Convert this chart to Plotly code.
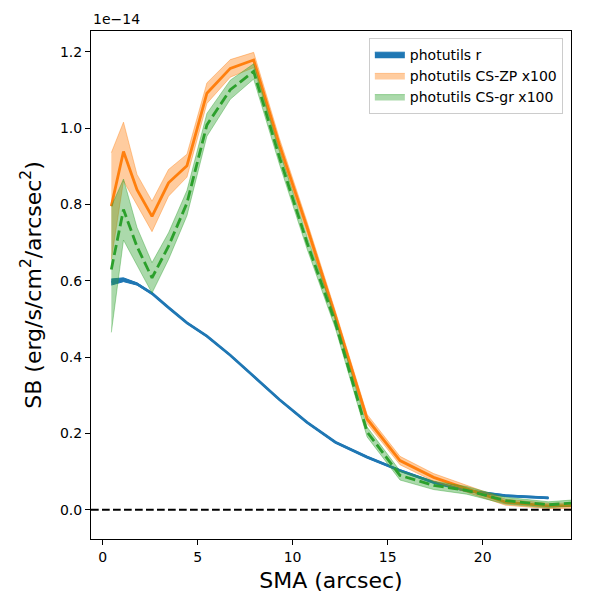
import plotly.graph_objects as go

# SMA grid (arcsec)
sma = [0.46, 1.10, 1.81, 2.60, 3.47, 4.44, 5.49, 6.72, 7.95, 9.30, 10.76,
       12.25, 13.92, 15.65, 17.42, 19.15, 21.20, 23.46, 25.90]

# photutils r (units of 1e-14), ends at 23.46
sb_r = [0.597, 0.603, 0.592, 0.567, 0.530, 0.490, 0.455, 0.405, 0.350, 0.289,
        0.229, 0.177, 0.138, 0.103, 0.072, 0.050, 0.037, 0.031]
err_r = [0.008, 0.005, 0.003, 0.002, 0.002, 0.002, 0.002, 0.002, 0.002, 0.002,
         0.002, 0.002, 0.002, 0.002, 0.002, 0.002, 0.002, 0.002]

# photutils CS-ZP x100
sb_zp = [0.796, 0.939, 0.839, 0.769, 0.857, 0.902, 1.092, 1.157, 1.179, 0.957,
         0.740, 0.508, 0.238, 0.129, 0.085, 0.055, 0.020, 0.010, 0.012]
err_zp = [0.140, 0.077, 0.040, 0.040, 0.035, 0.030, 0.027, 0.023, 0.020, 0.017,
          0.015, 0.013, 0.012, 0.011, 0.010, 0.009, 0.008, 0.007, 0.007]

# photutils CS-gr x100
sb_gr = [0.630, 0.787, 0.690, 0.608, 0.691, 0.804, 1.009, 1.101, 1.149, 0.925,
         0.700, 0.490, 0.204, 0.090, 0.064, 0.051, 0.024, 0.013, 0.022]
err_gr = [0.165, 0.080, 0.050, 0.040, 0.035, 0.033, 0.030, 0.025, 0.020, 0.018,
          0.016, 0.014, 0.013, 0.012, 0.011, 0.010, 0.009, 0.008, 0.008]

names = ["photutils r", "photutils CS-ZP x100", "photutils CS-gr x100"]
xticks = [0, 5, 10, 15, 20]
yticks = [0.0, 0.2, 0.4, 0.6, 0.8, 1.0, 1.2]

FONT = "DejaVu Sans"
fig = go.Figure()


def band(x, y, e, fillcol, linecol, name):
    up = [a + b for a, b in zip(y, e)]
    lo = [a - b for a, b in zip(y, e)]
    fig.add_trace(go.Scatter(
        x=list(x) + list(x)[::-1], y=up + lo[::-1], fill="toself",
        fillcolor=fillcol, line=dict(color=linecol, width=1),
        mode="lines", name=name, hoverinfo="skip"))


def line(x, y, col, dash="solid"):
    fig.add_trace(go.Scatter(x=x, y=y, mode="lines", showlegend=False,
                             line=dict(color=col, width=2.8, dash=dash)))


n_r = len(sb_r)
band(sma[:n_r], sb_r, err_r, "#1f77b4", "#1f77b4", names[0])
line(sma[:n_r], sb_r, "#1f77b4")
band(sma, sb_zp, err_zp, "rgba(255,127,14,0.4)", "rgba(255,127,14,0.4)", names[1])
line(sma, sb_zp, "#ff7f0e")
band(sma, sb_gr, err_gr, "rgba(44,160,44,0.4)", "rgba(44,160,44,0.4)", names[2])
line(sma, sb_gr, "#2ca02c", dash="10.3px,4.4px")

fig.add_hline(y=0, line=dict(color="black", width=2.1, dash="7.7px,3.3px"))

fig.update_layout(
    width=592, height=592,
    margin=dict(l=83, r=29, t=23, b=52),
    paper_bgcolor="white", plot_bgcolor="white",
    font=dict(family=FONT, size=14, color="black"),
    legend=dict(x=0.983, y=0.987, xanchor="right", yanchor="top",
                bgcolor="rgba(255,255,255,0.8)", bordercolor="#cccccc",
                borderwidth=1, font=dict(size=14), tracegroupgap=0,
                itemwidth=30),
    xaxis=dict(range=[-0.61, 24.65], tickvals=xticks, ticks="outside",
               ticklen=5, tickwidth=1, tickcolor="black", showline=True,
               linecolor="black", linewidth=1.1, mirror=True, showgrid=False,
               zeroline=False, tickfont=dict(size=14),
               title=dict(text="SMA (arcsec)", font=dict(size=22), standoff=8)),
    yaxis=dict(range=[-0.0766, 1.255], tickvals=yticks, tickformat=".1f",
               ticks="outside", ticklen=5, tickwidth=1, tickcolor="black",
               showline=True, linecolor="black", linewidth=1.1, mirror=True,
               showgrid=False, zeroline=False, tickfont=dict(size=14),
               title=dict(text="SB (erg/s/cm<sup>2</sup>/arcsec<sup>2</sup>)",
                          font=dict(size=22), standoff=12)),
    annotations=[dict(text="1e\u221214", xref="paper", yref="paper", x=0, y=1,
                      xanchor="left", yanchor="bottom", yshift=2, showarrow=False,
                      font=dict(size=14, family=FONT))],
)

fig.write_html("out.html")
